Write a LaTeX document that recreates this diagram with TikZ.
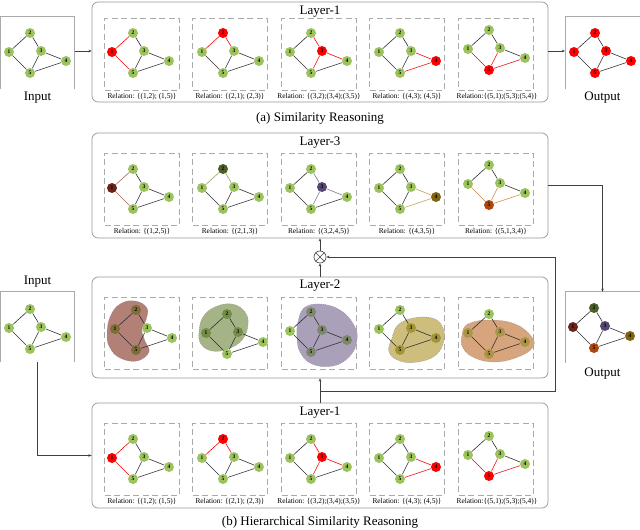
\documentclass[tikz,border=0pt]{standalone}
\usepackage{fontspec}
\setmainfont{Liberation Serif}
\usetikzlibrary{arrows.meta}
\definecolor{gn}{RGB}{157,195,94}
\definecolor{ed}{RGB}{45,45,45}
\definecolor{rd}{RGB}{255,0,0}
\definecolor{boxg}{RGB}{150,150,150}
\definecolor{subg}{RGB}{170,170,170}
% layer-3 colours
\definecolor{nA}{RGB}{105,35,25}\definecolor{eA}{RGB}{165,100,80}
\definecolor{nB}{RGB}{75,95,40}\definecolor{eB}{RGB}{150,160,95}
\definecolor{nC}{RGB}{85,70,115}\definecolor{eC}{RGB}{125,115,145}
\definecolor{nD}{RGB}{130,100,15}\definecolor{eD}{RGB}{195,160,80}
\definecolor{nE}{RGB}{175,70,10}\definecolor{eE}{RGB}{205,135,75}
% layer-2 colours
\definecolor{bA}{RGB}{178,128,118}\definecolor{mA}{RGB}{125,110,55}
\definecolor{bB}{RGB}{165,180,135}\definecolor{mB}{RGB}{115,140,70}
\definecolor{bC}{RGB}{170,160,185}\definecolor{mC}{RGB}{125,135,105}
\definecolor{bD}{RGB}{205,190,125}\definecolor{mD}{RGB}{160,150,55}
\definecolor{bE}{RGB}{215,165,125}\definecolor{mE}{RGB}{170,150,70}
\def\gcA{gn}\def\gcB{gn}\def\gcC{gn}\def\gcD{gn}\def\gcE{gn}
\def\geAB{ed}\def\geAE{ed}\def\geBC{ed}\def\geCE{ed}\def\geCD{ed}\def\geED{ed}
\tikzset{
 ca/.code={\def\gcA{#1}}, cb/.code={\def\gcB{#1}}, cc/.code={\def\gcC{#1}},
 cd/.code={\def\gcD{#1}}, ce/.code={\def\gcE{#1}},
 eab/.code={\def\geAB{#1}}, eae/.code={\def\geAE{#1}}, ebc/.code={\def\geBC{#1}},
 ece/.code={\def\geCE{#1}}, ecd/.code={\def\geCD{#1}}, eed/.code={\def\geED{#1}},
 gnode/.style={circle, inner sep=0pt, minimum size=10pt, font=\fontsize{5.5}{5.5}\selectfont\bfseries, text=black},
 gedge/.style={line width=0.6pt},
 layer/.style={draw=boxg, line width=0.7pt, rounded corners=6pt, minimum width=456pt, inner sep=0pt},
 sub/.style={draw=subg, line width=0.8pt, dash pattern=on 6pt off 3.5pt, minimum width=75pt, minimum height=72pt, inner sep=0pt},
 frame/.style={inner sep=0pt},
 obox/.style={draw=subg, line width=0.7pt},
 ttl/.style={font=\fontsize{13}{14}\selectfont, inner sep=0pt},
 rel/.style={font=\fontsize{7.4}{8}\selectfont, inner sep=0pt},
 blob/.style={draw=black!45, line width=0.35pt, dash pattern=on 1pt off 1pt},
 arr/.style={draw=black!75, line width=0.65pt, -{Stealth[length=3.2pt,width=2.6pt]}},
}
\newcommand\drawgraph[4]{%
\begin{scope}[shift={(#2,#3)},#4]
\node[gnode,fill=\gcA] (#1-1) at (0,0) {1};
\node[gnode,fill=\gcB] (#1-2) at (21,-19) {2};
\node[gnode,fill=\gcC] (#1-3) at (32,-1) {3};
\node[gnode,fill=\gcD] (#1-4) at (57,9) {4};
\node[gnode,fill=\gcE] (#1-5) at (21,21) {5};
\draw[gedge,draw=\geAB] (#1-1) -- (#1-2);
\draw[gedge,draw=\geAE] (#1-1) -- (#1-5);
\draw[gedge,draw=\geBC] (#1-2) -- (#1-3);
\draw[gedge,draw=\geCE] (#1-3) -- (#1-5);
\draw[gedge,draw=\geCD] (#1-3) -- (#1-4);
\draw[gedge,draw=\geED] (#1-5) -- (#1-4);
\end{scope}}
\begin{document}
\begin{tikzpicture}[x=1pt,y=-1pt]
\useasboundingbox (0,0) rectangle (640,530);

%================ (a) =================
\node[frame, minimum width=74pt, minimum height=72pt] (inA) at (37.5,53) {};
\draw[obox] (inA.south west) -- (inA.north west) -- (inA.north east) -- (inA.south east);
\node[ttl] (inAt) at (37.5,98) {Input};
\drawgraph{ia}{9}{52}{}

\node[layer, minimum height=100pt] (L1a) at (320,52) {};
\node[ttl] (L1at) at (320,12) {Layer-1};
\node[sub] (sa1) at (142,54) {};
\node[sub] (sa2) at (230,54) {};
\node[sub] (sa3) at (319,54) {};
\node[sub] (sa4) at (407,54) {};
\node[sub] (sa5) at (496,54) {};
\drawgraph{a1}{112}{52}{ca=rd,eab=rd,eae=rd}
\drawgraph{a2}{202}{52}{cb=rd,eab=rd,ebc=rd}
\drawgraph{a3}{290}{52}{cc=rd,ebc=rd,ecd=rd,ece=rd}
\drawgraph{a4}{379}{52}{cd=rd,ecd=rd,eed=rd}
\drawgraph{a5}{468}{49}{ce=rd,eae=rd,ece=rd,eed=rd}
\node[rel] (ra1) at (142,97) {Relation: \{(1,2); (1,5)\}};
\node[rel] (ra2) at (230,97) {Relation: \{(2,1); (2,3)\}};
\node[rel] (ra3) at (319,97) {Relation: \{(3,2);(3,4);(3,5)\}};
\node[rel] (ra4) at (407,97) {Relation: \{(4,3); (4,5)\}};
\node[rel] (ra5) at (497,97) {Relation:\{(5,1);(5,3);(5,4)\}};

\node[frame, minimum width=74.5pt, minimum height=72pt] (outA) at (602.5,53) {};
\draw[obox] (outA.south west) -- (outA.north west) -- (outA.north east) -- (outA.south east);
\node[ttl] (outAt) at (602.5,98) {Output};
\drawgraph{oa}{574}{52}{ca=rd,cb=rd,cc=rd,cd=rd,ce=rd}

\draw[arr] (inA.east |- 0,51) -- (L1a.west |- 0,51);
\draw[arr] (L1a.east |- 0,51) -- (outA.west |- 0,51);
\node[ttl] (capA) at (320,118) {(a) Similarity Reasoning};

%================ (b) Layer-3 =================
\node[layer, minimum height=105pt] (L3) at (320,185.5) {};
\node[ttl] (L3t) at (320,143) {Layer-3};
\node[sub] (s31) at (142,189) {};
\node[sub] (s32) at (230,189) {};
\node[sub] (s33) at (319,189) {};
\node[sub] (s34) at (407,189) {};
\node[sub] (s35) at (496,189) {};
\drawgraph{c1}{112}{188}{ca=nA,eab=eA,eae=eA}
\drawgraph{c2}{202}{188}{cb=nB,eab=eB,ebc=eB}
\drawgraph{c3}{290}{188}{cc=nC,ebc=eC,ecd=eC,ece=eC}
\drawgraph{c4}{379}{188}{cd=nD,ecd=eD,eed=eD}
\drawgraph{c5}{468}{184}{ce=nE,eae=eE,ece=eE,eed=eE}
\node[rel] (r31) at (142,232) {Relation: \{(1,2,5)\}};
\node[rel] (r32) at (230,232) {Relation: \{(2,1,3)\}};
\node[rel] (r33) at (319,232) {Relation: \{(3,2,4,5)\}};
\node[rel] (r34) at (407,232) {Relation: \{(4,3,5)\}};
\node[rel] (r35) at (496,232) {Relation: \{(5,1,3,4)\}};

%================ (b) Layer-2 =================
\node[layer, minimum height=101pt] (L2) at (320,327.5) {};
\node[ttl] (L2t) at (320,286) {Layer-2};
\node[sub] (s21) at (142,333.5) {};
\node[sub] (s22) at (230,333.5) {};
\node[sub] (s23) at (319,333.5) {};
\node[sub] (s24) at (407,333.5) {};
\node[sub] (s25) at (496,333.5) {};
\fill[bA] plot[smooth cycle, tension=0.7] coordinates {(107,335) (110,317) (120,304) (135,301) (147,308) (146,320) (142,330) (145,341) (149,352) (137,361) (120,358) (110,348)};
\draw[blob] plot[smooth cycle, tension=0.7] coordinates {(107,335) (110,317) (120,304) (135,301) (147,308) (146,320) (142,330) (145,341) (149,352) (137,361) (120,358) (110,348)};
\fill[bB] plot[smooth cycle, tension=0.7] coordinates {(199,332) (203,317) (215,307) (232,304) (245,312) (248,325) (242,340) (228,349) (212,351) (201,344)};
\draw[blob] plot[smooth cycle, tension=0.7] coordinates {(199,332) (203,317) (215,307) (232,304) (245,312) (248,325) (242,340) (228,349) (212,351) (201,344)};
\fill[bC] plot[smooth cycle, tension=0.7] coordinates {(298,322) (304,308) (320,304) (340,310) (354,325) (357,340) (350,356) (333,366) (312,364) (300,352) (297,337)};
\draw[blob] plot[smooth cycle, tension=0.7] coordinates {(298,322) (304,308) (320,304) (340,310) (354,325) (357,340) (350,356) (333,366) (312,364) (300,352) (297,337)};
\fill[bD] plot[smooth cycle, tension=0.7] coordinates {(392,338) (398,325) (413,318) (432,318) (442,326) (444,340) (436,355) (418,362) (400,361) (389,352)};
\draw[blob] plot[smooth cycle, tension=0.7] coordinates {(392,338) (398,325) (413,318) (432,318) (442,326) (444,340) (436,355) (418,362) (400,361) (389,352)};
\fill[bE] plot[smooth cycle, tension=0.7] coordinates {(462,335) (468,324) (490,320) (515,324) (531,336) (533,347) (518,357) (495,362) (475,358) (463,348)};
\draw[blob] plot[smooth cycle, tension=0.7] coordinates {(462,335) (468,324) (490,320) (515,324) (531,336) (533,347) (518,357) (495,362) (475,358) (463,348)};
\drawgraph{m1}{115}{329}{ca=mA,cb=mA,ce=mA}
\drawgraph{m2}{206}{333}{ca=mB,cb=mB,cc=mB}
\drawgraph{m3}{290}{331}{cb=mC,cc=mC,cd=mC,ce=mC}
\drawgraph{m4}{379}{329}{cc=mD,cd=mD,ce=mD}
\drawgraph{m5}{468}{333}{ca=mE,cc=mE,cd=mE,ce=mE}

%================ (b) Layer-1 =================
\node[layer, minimum height=105pt] (L1b) at (320,455.5) {};
\node[ttl] (L1bt) at (320,413) {Layer-1};
\node[sub] (s11) at (142,459) {};
\node[sub] (s12) at (230,459) {};
\node[sub] (s13) at (319,459) {};
\node[sub] (s14) at (407,459) {};
\node[sub] (s15) at (496,459) {};
\drawgraph{b1}{112}{458}{ca=rd,eab=rd,eae=rd}
\drawgraph{b2}{202}{458}{cb=rd,eab=rd,ebc=rd}
\drawgraph{b3}{290}{458}{cc=rd,ebc=rd,ecd=rd,ece=rd}
\drawgraph{b4}{379}{458}{cd=rd,ecd=rd,eed=rd}
\drawgraph{b5}{468}{455}{ce=rd,eae=rd,ece=rd,eed=rd}
\node[rel] (r11) at (142,502) {Relation: \{(1,2); (1,5)\}};
\node[rel] (r12) at (230,502) {Relation: \{(2,1); (2,3)\}};
\node[rel] (r13) at (319,502) {Relation: \{(3,2);(3,4);(3,5)\}};
\node[rel] (r14) at (407,502) {Relation: \{(4,3); (4,5)\}};
\node[rel] (r15) at (497,502) {Relation:\{(5,1);(5,3);(5,4)\}};
\node[ttl] (capB) at (320,522) {(b) Hierarchical Similarity Reasoning};

%================ (b) input / output =================
\node[frame, minimum width=74pt, minimum height=70pt] (inB) at (37.5,327) {};
\draw[obox] (inB.south west) -- (inB.north west) -- (inB.north east) -- (inB.south east);
\node[ttl] (inBt) at (37.5,282) {Input};
\drawgraph{ib}{9}{328}{}
\node[frame, minimum width=74.5pt, minimum height=71pt] (outB) at (602.5,327.5) {};
\draw[obox] (outB.south west) -- (outB.north west) -- (outB.north east) -- (outB.south east);
\node[ttl] (outBt) at (602.5,374) {Output};
\drawgraph{ob}{573}{327}{ca=nA,cb=nB,cc=nC,cd=nD,ce=nE}

%================ connectors =================
\node[draw=black!75, line width=0.65pt, circle, minimum size=12pt, inner sep=0pt] (ot) at (320,257) {};
\draw[line width=0.6pt, black!75] (ot.north east) -- (ot.south west) (ot.north west) -- (ot.south east);
\draw[arr] (ot.north) -- (L3.south);
\draw[arr] (L2.north) -- (ot.south);
\draw[arr] (L1b.north) -- (L2.south);
\coordinate (j1) at (320,391);
\coordinate (j2) at (555,391);
\coordinate (j3) at (555,257);
\draw[arr] (j1) -- (j2) -- (j3) -- (ot.east);
\draw[arr] (L3.east) -| (outB.north);
\draw[arr] (inB.south) |- (L1b.west);
\end{tikzpicture}
\end{document}
